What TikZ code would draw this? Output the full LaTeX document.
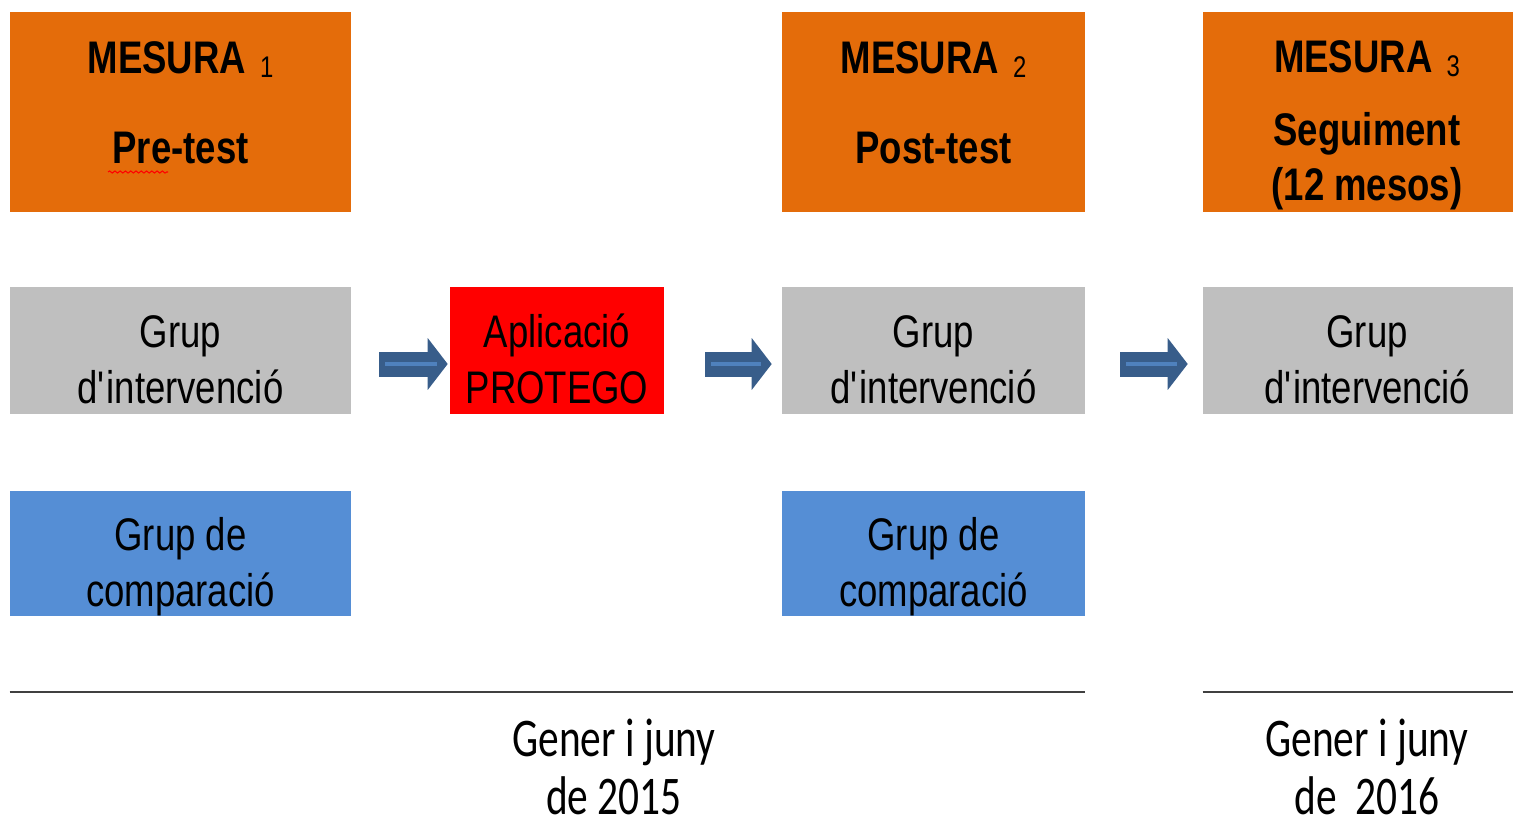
\documentclass[tikz,border=0pt]{standalone}
\usepackage{fontspec}
\setmainfont{Liberation Sans}[FakeStretch=0.8]
\newfontfamily\calibrifont{Carlito}[FakeStretch=0.76]
\usetikzlibrary{
arrows.meta,
calc,
decorations.pathmorphing
}
\definecolor{taronja}{HTML}{E46C0A}
\definecolor{gris}{HTML}{BFBFBF}
\definecolor{vermell}{HTML}{FF0000}
\definecolor{blau}{HTML}{558ED5}
\definecolor{fletxafosc}{HTML}{385D8A}
\definecolor{fletxaclar}{HTML}{4F81BD}
\definecolor{linia}{HTML}{404040}

\begin{document}
\begin{tikzpicture}[x=0.02cm, y=-0.02cm,
caixa/.style={inner sep=0, draw=none},
etiqueta/.style={inner sep=0, anchor=base, align=center, font=\fontsize{26}{31.75}\selectfont},
titol/.style={inner sep=0, anchor=base, align=center, font=\fontsize{26}{31.2}\selectfont\bfseries},
data/.style={inner sep=0, anchor=base, align=center, font=\calibrifont\fontsize{31}{32.9}\selectfont},
fletxa/.style={draw=fletxafosc, line width=0.5cm, -{Triangle[width=1.04cm,length=0.4cm,line width=0pt]}},
nucli/.style={draw=fletxaclar, line width=0.08cm},
eix/.style={draw=linia, line width=1.4pt}
]
\useasboundingbox (0,0) rectangle (1513,828);
\clip (0,0) rectangle (1513,828);

% mesures
\node[caixa, fill=taronja, minimum width=6.82cm, minimum height=4cm] (m1) at (180.5,112) {};
\node[caixa, fill=taronja, minimum width=6.06cm, minimum height=4cm] (m2) at (933.5,112) {};
\node[caixa, fill=taronja, minimum width=6.56cm, minimum height=4cm] (m3) at (1367,112) {};

% grups
\node[caixa, fill=gris, minimum width=6.82cm, minimum height=2.54cm] (g1) at (180.5,350.5) {};
\node[caixa, fill=vermell, minimum width=4.28cm, minimum height=2.54cm] (ap) at (557,350.5) {};
\node[caixa, fill=gris, minimum width=6.06cm, minimum height=2.54cm] (g2) at (933.5,350.5) {};
\node[caixa, fill=gris, minimum width=6.56cm, minimum height=2.54cm] (g3) at (1367,350.5) {};
\node[caixa, fill=blau, minimum width=6.82cm, minimum height=2.5cm] (b1) at (180.5,553.5) {};
\node[caixa, fill=blau, minimum width=6.06cm, minimum height=2.5cm] (b2) at (933.5,553.5) {};

% textos (base = darrera linia)
\node[titol] (m1a) at (m1 |- 0,73) {MESURA\hspace{8pt}\raisebox{-2.3pt}{\mdseries\fontsize{17}{20}\selectfont 1}};
\node[titol] (m1b) at (m1 |- 0,163) {Pre-test};
\node[titol] (m2a) at (m2 |- 0,73) {MESURA\hspace{8pt}\raisebox{-2.3pt}{\mdseries\fontsize{17}{20}\selectfont 2}};
\node[titol] (m2b) at (m2 |- 0,163) {Post-test};
\node[titol] (m3a) at (m3 |- 0,72) {MESURA\hspace{8pt}\raisebox{-2.3pt}{\mdseries\fontsize{17}{20}\selectfont 3}};
\node[titol] (m3b) at (m3 |- 0,200) {Seguiment\\(12 mesos)};

\node[etiqueta] (g1t) at (g1 |- 0,403) {Grup\\d\textquotesingle intervenció};
\node[etiqueta] (apt) at (ap |- 0,403) {Aplicació\\PROTEGO};
\node[etiqueta] (g2t) at (g2 |- 0,403) {Grup\\d\textquotesingle intervenció};
\node[etiqueta] (g3t) at (g3 |- 0,403) {Grup\\d\textquotesingle intervenció};
\node[etiqueta] (b1t) at (b1 |- 0,606) {Grup de\\comparació};
\node[etiqueta] (b2t) at (b2 |- 0,606) {Grup de\\comparació};

\draw[vermell, line width=0.6pt, decorate, decoration={snake, amplitude=0.6pt, segment length=3pt}] (108,172) -- (168,172);

% fletxes
\draw[fletxa, shorten <=0.56cm, shorten >=0.04cm] ($(g1.east)+(0,13.5)$) -- ($(ap.west)+(0,13.5)$);
\draw[nucli, shorten <=0.68cm, shorten >=0.26cm] ($(g1.east)+(0,13.5)$) -- ($(ap.west)+(0,13.5)$);
\draw[fletxa, shorten <=0.82cm, shorten >=0.2cm] ($(ap.east)+(0,13.5)$) -- ($(g2.west)+(0,13.5)$);
\draw[nucli, shorten <=0.94cm, shorten >=0.42cm] ($(ap.east)+(0,13.5)$) -- ($(g2.west)+(0,13.5)$);
\draw[fletxa, shorten <=0.7cm, shorten >=0.3cm] ($(g2.east)+(0,13.5)$) -- ($(g3.west)+(0,13.5)$);
\draw[nucli, shorten <=0.82cm, shorten >=0.52cm] ($(g2.east)+(0,13.5)$) -- ($(g3.west)+(0,13.5)$);

% eix temporal
\draw[eix] (b1.west |- 0,692) -- (b2.east |- 0,692);
\draw[eix] (g3.west |- 0,692) -- (1513,692);
\node[data] (d1) at (614,814) {Gener i juny\\de 2015};
\node[data] (d2) at (1367,814) {Gener i juny\\de\ \ 2016};
\end{tikzpicture}
\end{document}
